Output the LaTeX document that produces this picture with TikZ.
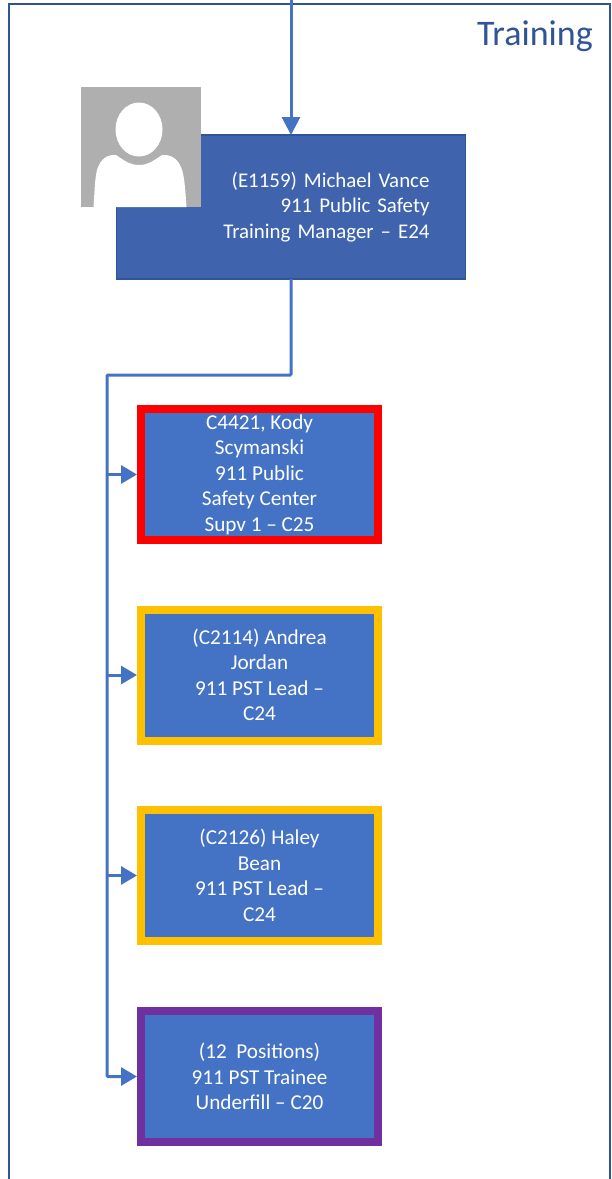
\documentclass[tikz,border=0pt]{standalone}
\usepackage{fontspec}
\setmainfont{Carlito}
\usetikzlibrary{arrows.meta}
\definecolor{TRFrame}{HTML}{2F5597}
\definecolor{TRBlue}{HTML}{4472C4}
\definecolor{TRDark}{HTML}{3F64AD}
\definecolor{TRGrey}{HTML}{AFAFAF}
\definecolor{TRRed}{HTML}{FF0000}
\definecolor{TRGold}{HTML}{FFC000}
\definecolor{TRPurple}{HTML}{7030A0}
\tikzset{
  staffbox/.style={draw=#1,line width=8pt,fill=TRBlue,text=white,align=center,
    minimum width=237pt,minimum height=131pt,inner sep=0pt,outer sep=4pt,
    font=\fontsize{21.2}{25.5}\selectfont},
  link/.style={TRBlue,line width=3pt},
  linkarrow/.style={link,-{Triangle[length=16pt,width=18pt]}}
}

\begin{document}
\begin{tikzpicture}[x=1pt,y=-1pt]
\path[use as bounding box] (0,0) rectangle (611,1179);
\fill[white] (0,0) rectangle (611,1179);
% frame
\draw[TRFrame,line width=2pt] (8.5,1179) -- (8.5,3.5) -- (610,3.5) -- (610,1179);
\node[anchor=east,TRFrame,inner sep=0pt,font=\fontsize{36}{40}\selectfont] (title) at (593,36) {Training};
% manager
\coordinate (top) at (291,0);
\node[draw=TRFrame,line width=1.5pt,fill=TRDark,text=white,minimum width=349pt,minimum height=144pt,
  text width=277pt,inner xsep=36pt,inner ysep=0pt,align=right,outer sep=0pt,
  font=\fontsize{20.9}{25.5}\selectfont] (mgr) at (291,207)
  {(E1159) Michael Vance\\911 Public Safety\\Training Manager -- E24};
% photo
\fill[TRGrey] (81,87) rectangle (201,207);
\fill[white] (139,129.5) ellipse (23.5 and 27);
\fill[white] (93.5,207) .. controls (95,185) and (95,172) .. (99,165)
  .. controls (103,157) and (110,154) .. (116,155)
  .. controls (125,161) and (130,165) .. (139,165)
  .. controls (148,165) and (153,161) .. (162,155)
  .. controls (168,154) and (176,157) .. (180,165)
  .. controls (184,172) and (185,185) .. (186.5,207) -- cycle;
% staff
\node[staffbox=TRRed] (kody) at (259.5,474.5)
  {C4421, Kody\\Scymanski\\911 Public\\Safety Center\\Supv 1 -- C25};
\node[staffbox=TRGold] (andrea) at (259.5,675)
  {(C2114) Andrea\\Jordan\\911 PST Lead --\\C24};
\node[staffbox=TRGold] (haley) at (259.5,875.5)
  {(C2126) Haley\\Bean\\911 PST Lead --\\C24};
\node[staffbox=TRPurple] (trainee) at (259.5,1076.5)
  {(12\ \ Positions)\\911 PST Trainee\\Underfill -- C20};
% connectors
\coordinate (bus) at (107,375);
\draw[link,-{Triangle[length=18pt,width=18pt]}] (top) -- (mgr.north);
\draw[linkarrow,rounded corners=1pt] (mgr.south) |- (bus) |- (trainee.west);
\foreach \n in {kody,andrea,haley}
  \draw[linkarrow] (bus |- \n.west) -- (\n.west);
\end{tikzpicture}
\end{document}
